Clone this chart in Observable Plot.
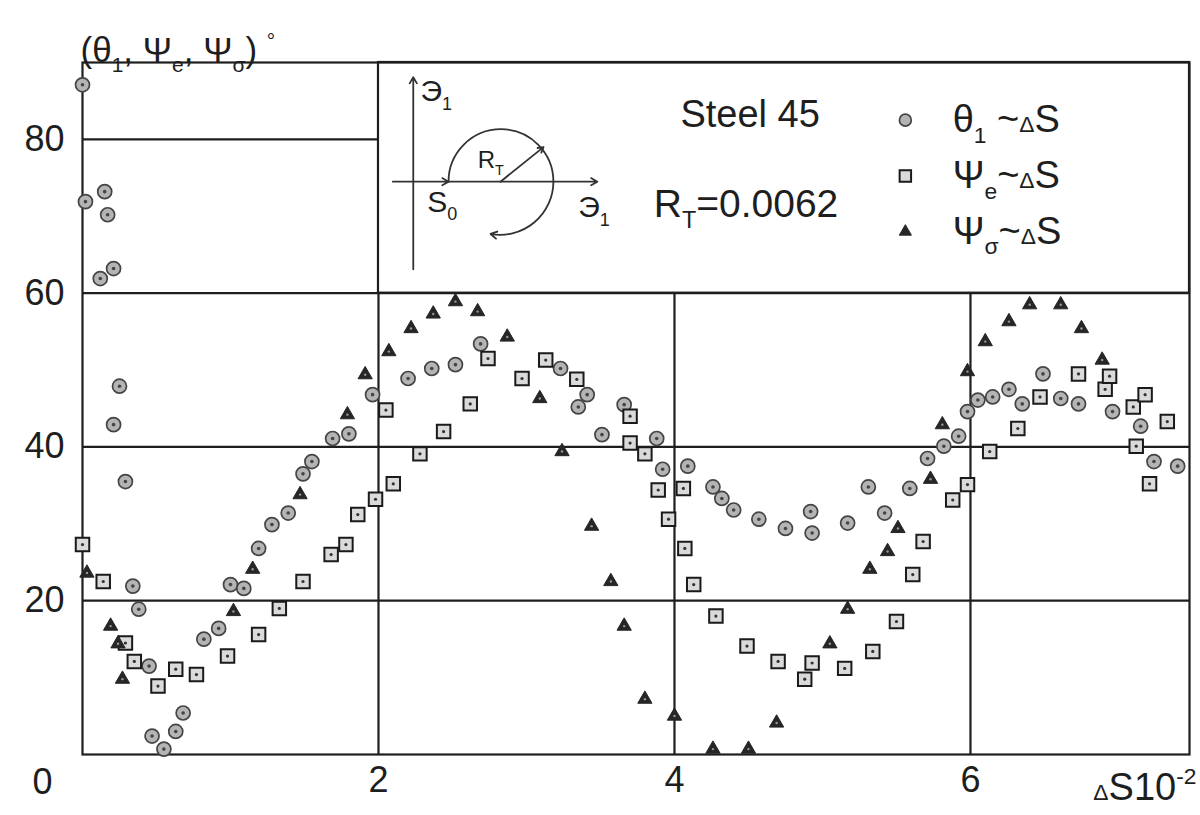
<!DOCTYPE html>
<html>
<head>
<meta charset="utf-8">
<script src="https://cdn.jsdelivr.net/npm/d3@7"></script>
<script src="https://cdn.jsdelivr.net/npm/@observablehq/plot@0.6"></script>
<style>
  html, body { margin: 0; padding: 0; background: #fff; }
  #chart { width: 1200px; height: 815px; }
</style>
</head>
<body>
<div id="chart"></div>
<script>
// Angles θ1, Ψe, Ψσ (degrees) against cumulative strain ΔS·10^-2, steel 45, R_T = 0.0062

// θ1 ~ ΔS  (circles)
const theta1 = [
  [0.00, 87.1], [0.02, 71.9], [0.12, 61.9], [0.15, 73.2], [0.17, 70.2], [0.21, 63.2],
  [0.21, 42.9], [0.25, 47.9], [0.29, 35.5], [0.34, 21.9], [0.38, 18.9], [0.45, 11.5],
  [0.47, 2.4], [0.55, 0.7], [0.63, 3.0], [0.68, 5.4], [0.82, 15.0], [0.92, 16.4],
  [1.00, 22.1], [1.09, 21.6], [1.19, 26.8], [1.28, 29.9], [1.39, 31.4], [1.49, 36.5],
  [1.55, 38.1], [1.69, 41.1], [1.80, 41.7], [1.96, 46.8], [2.20, 48.9], [2.36, 50.2],
  [2.52, 50.7], [2.69, 53.4], [3.23, 50.2], [3.35, 45.2], [3.41, 46.8], [3.51, 41.6],
  [3.66, 45.5], [3.88, 41.1], [3.92, 37.1], [4.09, 37.5], [4.26, 34.8], [4.32, 33.3],
  [4.40, 31.8], [4.57, 30.6], [4.75, 29.4], [4.92, 31.6], [4.93, 28.8], [5.17, 30.1],
  [5.31, 34.8], [5.42, 31.4], [5.59, 34.6], [5.71, 38.5], [5.82, 40.1], [5.92, 41.4],
  [5.98, 44.6], [6.05, 46.1], [6.15, 46.5], [6.26, 47.5], [6.35, 45.6], [6.49, 49.5],
  [6.61, 46.3], [6.73, 45.6], [6.96, 44.6], [7.15, 42.7], [7.24, 38.1], [7.40, 37.5]
];

// Ψe ~ ΔS  (squares)
const psiE = [
  [0.00, 27.3], [0.14, 22.5], [0.29, 14.5], [0.35, 12.1], [0.51, 8.9], [0.63, 11.1],
  [0.77, 10.4], [0.98, 12.8], [1.19, 15.6], [1.33, 19.0], [1.49, 22.5], [1.68, 26.0],
  [1.78, 27.3], [1.86, 31.2], [1.98, 33.2], [2.05, 44.8], [2.10, 35.2], [2.28, 39.1],
  [2.44, 42.0], [2.62, 45.6], [2.74, 51.5], [2.97, 48.9], [3.13, 51.3], [3.34, 48.8],
  [3.70, 44.0], [3.70, 40.5], [3.80, 39.1], [3.89, 34.4], [3.96, 30.6], [4.06, 34.6],
  [4.07, 26.8], [4.13, 22.1], [4.28, 18.0], [4.49, 14.1], [4.70, 12.1], [4.88, 9.8],
  [4.93, 11.9], [5.15, 11.2], [5.34, 13.4], [5.50, 17.3], [5.61, 23.4], [5.68, 27.7],
  [5.88, 33.1], [5.98, 35.1], [6.13, 39.4], [6.32, 42.4], [6.47, 46.5], [6.73, 49.5],
  [6.91, 47.5], [6.94, 49.2], [7.10, 45.2], [7.12, 40.1], [7.18, 46.8], [7.21, 35.2],
  [7.33, 43.3]
];

// Ψσ ~ ΔS  (filled triangles)
const psiSigma = [
  [0.03, 23.6], [0.19, 16.7], [0.24, 14.4], [0.27, 9.8], [1.02, 18.6], [1.15, 24.1],
  [1.47, 33.8], [1.79, 44.2], [1.91, 49.4], [2.07, 52.4], [2.22, 55.4], [2.37, 57.3],
  [2.52, 58.9], [2.67, 57.6], [2.87, 54.3], [3.09, 46.3], [3.24, 39.4], [3.44, 29.7],
  [3.57, 22.5], [3.66, 16.7], [3.80, 7.2], [4.00, 5.0], [4.26, 0.7], [4.50, 0.7],
  [4.69, 4.1], [5.05, 14.4], [5.17, 18.9], [5.32, 24.1], [5.44, 26.4], [5.51, 29.4],
  [5.73, 35.8], [5.81, 42.9], [5.98, 49.8], [6.10, 53.7], [6.26, 56.3], [6.40, 58.5],
  [6.61, 58.5], [6.75, 55.4], [6.89, 51.3]
];

// Axis ticks and texts  (_{} subscript, ^{} superscript, %{} small on baseline)
const xTicks = [2, 4, 6];
const yTicks = [20, 40, 60, 80];
const xMax = 7.48;
const yMax = 90;
const yTitle = "(θ_{1}, Ψ_{e}, Ψ_{σ}) ^{°}";
const xTitle = "%{Δ}S10^{-2}";
const material = "Steel 45";
const radiusNote = "R_{T}=0.0062";
const legendLabels = ["θ_{1} ~%{Δ}S", "Ψ_{e}~%{Δ}S", "Ψ_{σ}~%{Δ}S"];

const FONT = '"Liberation Sans", Arial, Helvetica, sans-serif';
const INK = "#1e1e1e";

// Marker styles for the three series
const styles = [
  {symbol: "circle",   r: 7,   fill: "#b4b4b4", stroke: "#444", strokeWidth: 1.7, core: "#444", coreR: 1.8},
  {symbol: "square",   r: 7.6, fill: "#dadada", stroke: "#1a1a1a", strokeWidth: 2, core: "#333", coreR: 1.6},
  {symbol: "triangle", r: 5.3, fill: "#262626", stroke: "#262626", strokeWidth: 1, core: "#999", coreR: 1.2}
];
const seriesData = [theta1, psiE, psiSigma];

function seriesMarks(data, st) {
  return [
    Plot.dot(data, {x: d => d[0], y: d => d[1], symbol: st.symbol, r: st.r,
      fill: st.fill, stroke: st.stroke, strokeWidth: st.strokeWidth}),
    Plot.dot(data, {x: d => d[0], y: d => d[1], r: st.coreR, fill: st.core, stroke: "none"})
  ];
}

// Legend rows inside the upper-right panel
const legendRows = legendLabels.map((label, i) => ({label, i, y: 82.5 - i * 7.25}));
const legendMarks = legendRows.flatMap(row => {
  const st = styles[row.i];
  return [
    Plot.dot([row], {x: 5.56, y: "y", symbol: st.symbol, r: st.r * 0.85,
      fill: st.fill, stroke: st.stroke, strokeWidth: st.strokeWidth}),
    Plot.text([row], {x: 5.88, y: "y", text: "label", textAnchor: "start", fontSize: 38})
  ];
});

// Loading-path sketch: Э1 axis, S0 start, circle of radius R_T traversed clockwise
const sketchArrows = [
  {x1: 2.235, y1: 63.1, x2: 2.235, y2: 88.1, bend: 0,  head: 6},
  {x1: 2.097, y1: 74.5, x2: 2.473, y2: 74.5, bend: 0,  head: 6},
  {x1: 2.473, y1: 74.5, x2: 3.479, y2: 74.5, bend: 0,  head: 6},
  {x1: 2.473, y1: 74.5, x2: 3.182, y2: 74.5, bend: 90, head: 0},
  {x1: 3.182, y1: 74.5, x2: 2.757, y2: 67.7, bend: 50, head: 6},
  {x1: 2.824, y1: 74.5, x2: 3.115, y2: 79.0, bend: 0,  head: 5}
];
const sketchMarks = sketchArrows.map(a =>
  Plot.arrow([a], {x1: "x1", y1: "y1", x2: "x2", y2: "y2", bend: a.bend,
    headLength: a.head, stroke: "#333", strokeWidth: 1.8})
);
const sketchLabels = [
  {text: "Э_{1}", x: 2.284, y: 86.2, size: 30},
  {text: "R_{T}", x: 2.67,  y: 77.3, size: 24},
  {text: "S_{0}", x: 2.33,  y: 71.8, size: 30},
  {text: "Э_{1}", x: 3.35,  y: 71.1, size: 30}
];
const sketchTextMarks = sketchLabels.map(l =>
  Plot.text([l], {x: "x", y: "y", text: "text", textAnchor: "start", fontSize: l.size})
);

const chart = Plot.plot({
  width: 1200,
  height: 815,
  marginLeft: 82,
  marginRight: 11,
  marginTop: 62,
  marginBottom: 61,
  x: {domain: [0, xMax]},
  y: {domain: [0, yMax]},
  style: {fontFamily: FONT, fontSize: "36px", color: INK, background: "white"},
  marks: [
    Plot.ruleY(yTicks, {stroke: INK, strokeWidth: 2.2}),
    Plot.ruleX(xTicks, {stroke: INK, strokeWidth: 2.2}),
    Plot.rect([0], {x1: 2, x2: xMax, y1: 60, y2: yMax, fill: "white", stroke: INK, strokeWidth: 2.2}),
    Plot.frame({stroke: INK, strokeWidth: 2.2}),
    Plot.axisY({ticks: yTicks, tickSize: 0, tickPadding: 18, label: null, fontSize: 36}),
    Plot.axisX({ticks: xTicks, tickSize: 0, tickPadding: 12, label: null, fontSize: 36}),
    Plot.text(["0"], {x: 0, y: 0, dx: -30, dy: 28, textAnchor: "end", fontSize: 36}),
    Plot.text([xTitle], {x: 6.83, y: 0, dy: 33, textAnchor: "start", fontSize: 38}),
    Plot.text([yTitle], {frameAnchor: "top-left", dx: -2, dy: -25, textAnchor: "start", fontSize: 35}),
    ...seriesData.flatMap((data, i) => seriesMarks(data, styles[i])),
    Plot.text([material], {x: 4.04, y: 83.2, textAnchor: "start", fontSize: 38}),
    Plot.text([radiusNote], {x: 3.86, y: 71.5, textAnchor: "start", fontSize: 39}),
    ...legendMarks,
    ...sketchMarks,
    ...sketchTextMarks
  ]
});

document.getElementById("chart").appendChild(chart);

// Turn the _{…}, ^{…}, %{…} markup into sub/superscript tspans
d3.select(chart).selectAll("text").each(function () {
  const raw = this.textContent;
  if (!/[_^%]\{/.test(raw)) return;
  const fs = parseFloat(getComputedStyle(this).fontSize) || 36;
  const el = d3.select(this);
  el.text(null);
  const re = /([_^%])\{([^}]*)\}/g;
  let last = 0, m, shift = 0;
  const plain = s => {
    const t = el.append("tspan").text(s);
    if (shift) { t.attr("dy", -shift); shift = 0; }
  };
  while ((m = re.exec(raw))) {
    if (m.index > last) plain(raw.slice(last, m.index));
    const t = el.append("tspan").text(m[2]).attr("font-size", (fs * 0.6).toFixed(1));
    let s = 0;
    if (m[1] === "_") s = fs * 0.28;
    if (m[1] === "^") s = -fs * 0.42;
    const dy = s - shift;
    if (dy) t.attr("dy", dy);
    shift = s;
    last = re.lastIndex;
  }
  if (last < raw.length) plain(raw.slice(last));
});
</script>
</body>
</html>
